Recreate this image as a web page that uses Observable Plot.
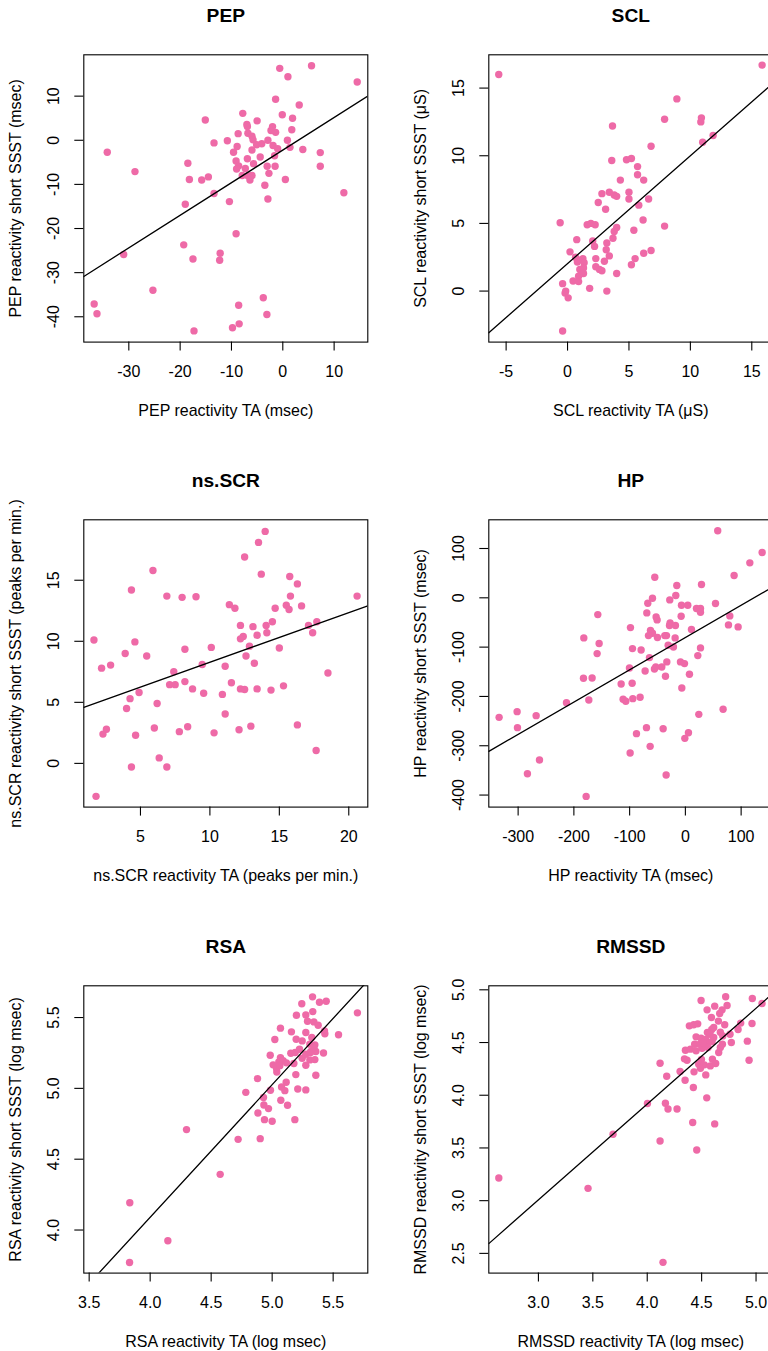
<!DOCTYPE html>
<html><head><meta charset="utf-8">
<script src="https://cdn.jsdelivr.net/npm/d3@7"></script>
<script src="https://cdn.jsdelivr.net/npm/@observablehq/plot@0.6"></script>
<style>
html,body{margin:0;padding:0;background:#fff;overflow:hidden;}
#wrap{position:relative;width:768px;height:1351px;overflow:hidden;background:#fff;}
.panel{position:absolute;width:405px;height:465.4px;}
.panel svg{max-width:none !important;width:405px;height:465.4px;}
</style></head><body><div id="wrap"></div>
<script>
// ---- data: [TA reactivity, short SSST reactivity] per participant ----
const pepPoints = [[-0.6,16.3],[5.6,16.9],[1.0,14.4],[14.5,13.2],[-1.4,9.3],[3.2,8.0],[-7.8,6.1],[-0.1,5.8],[-15.1,4.6],[-5.0,4.4],[1.9,5.0],[-7.0,3.6],[-6.9,3.1],[-2.0,3.1],[-2.3,2.2],[-1.4,1.8],[1.75,2.4],[-8.7,1.5],[-6.8,1.6],[-6.0,0.9],[-5.8,0.1],[-2.9,0.0],[0.9,0.0],[-10.8,-0.1],[-13.4,-0.6],[-5.1,-1.0],[-4.1,-0.8],[-1.9,-1.2],[-8.9,-1.4],[-1.0,-1.9],[1.4,-1.6],[3.9,-2.1],[-6.0,-2.2],[-9.6,-2.7],[-34.2,-2.7],[7.3,-2.8],[-1.6,-3.5],[-4.4,-3.8],[-6.9,-4.2],[-9.1,-4.7],[-18.5,-5.2],[-5.7,-5.3],[-8.6,-5.8],[-3.05,-5.9],[-1.5,-5.9],[7.3,-5.9],[-9.0,-6.5],[-7.3,-6.4],[-28.8,-7.1],[-2.7,-7.5],[-7.9,-8.0],[-6.8,-8.05],[-6.0,-8.0],[-14.5,-8.3],[-18.2,-8.9],[-15.8,-9.0],[-6.4,-9.0],[0.5,-8.9],[-3.5,-10.2],[-13.4,-12.05],[11.9,-11.9],[-2.9,-13.3],[-10.4,-13.9],[-19.0,-14.5],[-9.1,-21.2],[-19.3,-23.7],[-31.0,-25.9],[-12.2,-25.6],[-17.5,-26.9],[-12.3,-27.2],[-25.3,-34.0],[-3.8,-35.7],[-36.75,-37.1],[-8.6,-37.4],[-36.2,-39.3],[-3.1,-39.5],[-8.5,-41.6],[-9.8,-42.5],[-17.3,-43.2]];
const sclPoints = [[-5.6,16.0],[15.84,16.7],[8.9,14.2],[7.9,12.7],[10.9,12.8],[10.85,12.5],[3.66,12.2],[11.85,11.5],[11.0,11.0],[6.8,10.7],[3.6,9.65],[4.8,9.7],[5.2,9.8],[5.7,9.2],[5.7,8.6],[6.2,8.2],[4.3,8.2],[2.8,7.2],[3.4,7.3],[3.8,7.1],[4.0,7.0],[5.0,7.3],[5.0,6.8],[6.6,6.8],[5.8,6.35],[2.5,6.55],[3.1,6.05],[6.15,5.25],[-0.6,5.05],[1.6,4.9],[1.9,5.0],[2.25,4.9],[7.9,4.8],[4.0,4.7],[3.8,4.4],[5.4,4.5],[3.7,3.9],[0.75,3.8],[2.05,3.7],[2.2,3.3],[3.2,3.55],[3.15,3.05],[0.2,2.9],[6.2,2.8],[6.8,3.0],[0.65,2.5],[1.25,2.4],[3.4,2.6],[2.3,2.4],[5.5,2.4],[0.8,2.15],[1.35,2.1],[3.0,2.2],[5.2,1.95],[2.3,1.8],[2.6,1.6],[2.8,1.5],[1.0,1.6],[1.3,1.7],[1.3,1.3],[0.9,1.1],[4.0,1.3],[0.45,0.75],[0.9,0.7],[-0.4,0.55],[1.8,0.2],[3.2,0.0],[-0.15,0.0],[-0.2,-0.15],[0.05,-0.5],[-0.4,-2.95],[0.85,2.3]];
const nsscrPoints = [[13.98,19.0],[13.5,18.1],[12.5,16.9],[5.9,15.8],[13.7,15.5],[15.75,15.3],[4.35,14.2],[16.3,14.7],[6.9,13.7],[8.0,13.6],[9.0,13.65],[15.8,13.7],[20.6,13.7],[11.4,13.0],[11.8,12.7],[14.7,12.7],[15.5,12.95],[15.7,12.6],[16.6,12.9],[12.2,11.3],[13.1,11.2],[14.05,11.3],[14.5,11.6],[17.1,11.3],[17.7,11.6],[12.4,10.4],[12.2,10.2],[13.4,10.5],[14.1,10.7],[17.4,10.7],[1.65,10.1],[4.6,9.95],[3.9,9.0],[8.2,9.35],[10.1,9.5],[12.85,9.6],[15.0,9.45],[5.45,8.8],[12.6,8.8],[2.2,7.8],[2.85,8.05],[9.45,8.1],[11.1,7.95],[13.2,8.2],[7.4,7.5],[18.5,7.4],[8.2,6.7],[7.1,6.45],[7.5,6.45],[11.55,6.6],[8.75,6.1],[9.55,5.75],[12.2,6.1],[12.5,6.05],[13.4,6.1],[14.4,6.0],[15.3,6.35],[4.9,5.8],[4.25,5.3],[10.9,5.65],[6.2,4.9],[4.0,4.5],[11.1,4.05],[6.0,2.9],[8.4,3.0],[7.8,2.6],[10.3,2.5],[12.1,2.75],[12.95,3.05],[16.3,3.15],[2.3,2.4],[2.55,2.8],[4.65,2.3],[17.65,1.05],[6.35,0.45],[4.35,-0.3],[6.9,-0.3],[1.8,-2.7]];
const hpPoints = [[58,135.9],[137.7,91.9],[115.6,70.9],[87.4,45.2],[-54.9,41.8],[-15.4,24.9],[28.9,26.9],[-17.2,4.6],[-59.0,-0.8],[-28.0,-4.2],[-67.4,-11.0],[-7.0,-15.0],[4.3,-15.0],[54.0,-11.6],[19.9,-21.8],[27.1,-21.8],[27.1,-29.2],[-69.2,-30.6],[-157.1,-34.0],[-52.5,-38.7],[-50.7,-44.8],[-7.6,-37.3],[79.7,-36.7],[-27.4,-50.9],[-28.5,-56.3],[-17.8,-56.3],[77.3,-54.9],[94.6,-59.0],[-98.5,-60.4],[10.9,-64.4],[-62.6,-66.4],[-59.0,-71.9],[-66.2,-76.6],[-50.1,-80.6],[-36.9,-76.6],[-33.9,-76.6],[-18.4,-81.3],[-182.2,-81.3],[-154.7,-92.8],[-30.9,-96.2],[-21.4,-99.6],[-94.9,-103.0],[-79.4,-105.7],[27.1,-101.6],[-158.3,-113.1],[22.3,-117.2],[-64.4,-121.2],[-33.3,-130.0],[-8.8,-130.0],[-1.6,-133.4],[-100.3,-142.2],[-53.1,-140.2],[-42.3,-140.2],[-55.5,-144.3],[-72.2,-148.3],[7.3,-155.1],[-35.7,-159.1],[-182.8,-163.2],[-167.3,-162.5],[-115.2,-174.7],[-95.5,-173.3],[-6.4,-182.8],[-111.7,-205.8],[-106.9,-209.9],[-94.3,-204.5],[-81.2,-201.8],[-173.2,-207.2],[-213.3,-212.6],[-334.1,-242.4],[-301.8,-230.9],[-267.7,-239.0],[67.7,-226.1],[24.1,-236.3],[-301.2,-263.3],[-69.8,-263.3],[-39.9,-265.4],[-87.7,-275.5],[5.5,-273.5],[-1.0,-285.0],[-63.2,-301.2],[-99.1,-314.8],[-261.7,-329.0],[-283.3,-356.7],[-34.5,-359.4],[-178.0,-402.7]];
const rsaPoints = [[5.331,5.646],[5.243,5.597],[5.388,5.608],[5.443,5.615],[5.699,5.533],[5.199,5.516],[5.276,5.519],[5.333,5.542],[5.290,5.474],[5.342,5.469],[5.377,5.446],[5.068,5.425],[5.158,5.399],[5.276,5.394],[5.429,5.406],[5.432,5.385],[5.544,5.378],[5.022,5.345],[5.197,5.347],[5.246,5.335],[5.325,5.359],[5.309,5.312],[5.350,5.307],[5.224,5.276],[5.153,5.248],[5.189,5.253],[4.984,5.234],[5.068,5.217],[5.055,5.187],[5.090,5.196],[5.117,5.180],[5.178,5.175],[5.246,5.213],[5.276,5.241],[5.317,5.260],[5.358,5.260],[5.421,5.250],[5.309,5.201],[5.350,5.203],[5.276,5.163],[5.008,5.166],[5.036,5.142],[5.063,5.159],[5.038,5.116],[5.194,5.097],[5.358,5.093],[4.880,5.069],[5.115,5.043],[5.077,5.010],[5.104,4.984],[4.986,4.987],[5.210,4.996],[5.276,4.989],[4.784,4.972],[4.929,4.935],[5.071,4.916],[4.932,4.883],[4.970,4.857],[5.126,4.881],[4.883,4.826],[4.937,4.779],[5.000,4.768],[5.186,4.779],[4.298,4.709],[4.721,4.640],[4.902,4.645],[4.574,4.393],[3.833,4.193],[4.145,3.924],[3.831,3.771],[5.314,5.253],[5.342,5.288]];
const rmssdPoints = [[4.721,4.934],[4.495,4.899],[4.966,4.918],[5.055,4.870],[4.620,4.845],[4.734,4.851],[4.550,4.810],[4.688,4.810],[4.666,4.775],[4.590,4.737],[4.654,4.703],[4.712,4.668],[4.859,4.684],[4.963,4.680],[4.387,4.658],[4.427,4.668],[4.464,4.677],[4.593,4.623],[4.835,4.623],[4.553,4.595],[4.577,4.579],[4.672,4.598],[4.761,4.579],[4.449,4.554],[4.495,4.541],[4.538,4.528],[4.611,4.547],[4.694,4.563],[4.436,4.484],[4.482,4.484],[4.547,4.491],[4.596,4.509],[4.691,4.484],[4.773,4.500],[4.920,4.513],[4.351,4.427],[4.397,4.437],[4.449,4.421],[4.504,4.446],[4.559,4.453],[4.657,4.405],[4.672,4.453],[4.936,4.332],[4.342,4.345],[4.366,4.332],[4.498,4.339],[4.599,4.342],[4.118,4.304],[4.473,4.294],[4.525,4.288],[4.580,4.278],[4.629,4.301],[4.489,4.256],[4.430,4.222],[4.302,4.225],[4.538,4.193],[4.179,4.180],[4.348,4.142],[4.424,4.073],[4.547,3.975],[4.002,3.921],[4.167,3.924],[4.191,3.870],[4.274,3.870],[4.418,3.741],[4.620,3.728],[3.686,3.630],[4.118,3.566],[4.455,3.481],[2.636,3.215],[3.456,3.117],[4.145,2.415],[4.611,4.642],[4.513,4.500]];

// fitted regression lines: [intercept, slope]
const pepFit = [-2.23, 0.7385];
const sclFit = [2.03, 0.797];
const nsscrFit = [4.22, 0.4064];
const hpFit = [-80.7, 0.6543];
const rsaFit = [0.346, 0.936];
const rmssdFit = [0.280, 0.909];

// tick values
const pepXTicks = [-30,-20,-10,0,10], pepYTicks = [-40,-30,-20,-10,0,10];
const sclXTicks = [-5,0,5,10,15], sclYTicks = [0,5,10,15];
const nsscrXTicks = [5,10,15,20], nsscrYTicks = [0,5,10,15];
const hpXTicks = [-300,-200,-100,0,100], hpYTicks = [-400,-300,-200,-100,0,100];
const rsaXTicks = [3.5,4.0,4.5,5.0,5.5], rsaYTicks = [4.0,4.5,5.0,5.5];
const rmssdXTicks = [3.0,3.5,4.0,4.5,5.0], rmssdYTicks = [2.5,3.0,3.5,4.0,4.5,5.0];

const titles = ["PEP","SCL","ns.SCR","HP","RSA","RMSSD"];
const xLabels = ["PEP reactivity TA (msec)","SCL reactivity TA (\u03BCS)","ns.SCR reactivity TA (peaks per min.)","HP reactivity TA (msec)","RSA reactivity TA (log msec)","RMSSD reactivity TA (log msec)"];
const yLabels = ["PEP reactivity short SSST (msec)","SCL reactivity short SSST (\u03BCS)","ns.SCR reactivity short SSST (peaks per min.)","HP reactivity short SSST (msec)","RSA reactivity short SSST (log msec)","RMSSD reactivity short SSST (log msec)"];

const intFmt = d => String(d);
const decFmt = d => d.toFixed(1);

const panels = [
  {points:pepPoints, fit:pepFit, xt:pepXTicks, yt:pepYTicks, xd:[-38.77,16.56], yd:[-45.74,19.37], fmt:intFmt},
  {points:sclPoints, fit:sclFit, xt:sclXTicks, yt:sclYTicks, xd:[-6.41,16.71], yd:[-3.77,17.46], fmt:intFmt},
  {points:nsscrPoints, fit:nsscrFit, xt:nsscrXTicks, yt:nsscrYTicks, xd:[0.92,21.37], yd:[-3.58,19.95], fmt:intFmt},
  {points:hpPoints, fit:hpFit, xt:hpXTicks, yt:hpYTicks, xd:[-352.6,156.8], yd:[-424.4,158.2], fmt:intFmt},
  {points:rsaPoints, fit:rsaFit, xt:rsaXTicks, yt:rsaYTicks, xd:[3.456,5.784], yd:[3.696,5.724], fmt:decFmt},
  {points:rmssdPoints, fit:rmssdFit, xt:rmssdXTicks, yt:rmssdYTicks, xd:[2.544,5.154], yd:[2.313,5.038], fmt:decFmt}
];

const W = 405, H = 465.4, ML = 83.3, MR = 37.7, MT = 54.3, MB = 123.8;
const FONT = "'Liberation Sans', Arial, Helvetica, sans-serif";
const wrap = document.getElementById("wrap");

panels.forEach((p, i) => {
  const col = i % 2, row = Math.floor(i / 2);
  const fitLine = p.xd.map(x => ({x, y: p.fit[0] + p.fit[1] * x}));
  const chart = Plot.plot({
    width: W, height: H,
    marginLeft: ML, marginRight: MR, marginTop: MT, marginBottom: MB,
    x: {domain: p.xd},
    y: {domain: p.yd},
    style: {fontFamily: FONT, fontSize: "16px", color: "#000", background: "#fff", overflow: "visible", maxWidth: "none"},
    marks: [
      Plot.dot(p.points, {x: d => d[0], y: d => d[1], r: 3.7, fill: "#EE6AA7", stroke: "none"}),
      Plot.line(fitLine, {x: "x", y: "y", stroke: "#000", strokeWidth: 1.3, clip: true}),
      Plot.frame({stroke: "#000", strokeWidth: 1.1}),
      Plot.axisX({ticks: p.xt, tickSize: 9, tickFormat: () => "", label: null, strokeWidth: 1.1}),
      Plot.axisY({ticks: p.yt, tickSize: 9, tickFormat: () => "", label: null, strokeWidth: 1.1}),
      Plot.text(p.xt, {x: d => d, frameAnchor: "bottom", dy: 29.7, text: p.fmt, textAnchor: "middle", lineAnchor: "middle", fontSize: 16, fill: "#000"}),
      Plot.text(p.yt, {y: d => d, frameAnchor: "left", dx: -30, rotate: -90, text: p.fmt, textAnchor: "middle", lineAnchor: "middle", fontSize: 16, fill: "#000"}),
      Plot.text([xLabels[i]], {frameAnchor: "bottom", dy: 68.3, textAnchor: "middle", lineAnchor: "middle", fontSize: 16, fill: "#000"}),
      Plot.text([yLabels[i]], {frameAnchor: "left", dx: -68, rotate: -90, textAnchor: "middle", lineAnchor: "middle", fontSize: 16, fill: "#000"}),
      Plot.text([titles[i]], {frameAnchor: "top", dy: -38.6, textAnchor: "middle", lineAnchor: "middle", fontSize: 19.2, fontWeight: "bold", fill: "#000"})
    ]
  });
  const div = document.createElement("div");
  div.className = "panel";
  div.style.left = (col * W) + "px";
  div.style.top = (row * H) + "px";
  div.appendChild(chart);
  wrap.appendChild(div);
});
</script></body></html>
